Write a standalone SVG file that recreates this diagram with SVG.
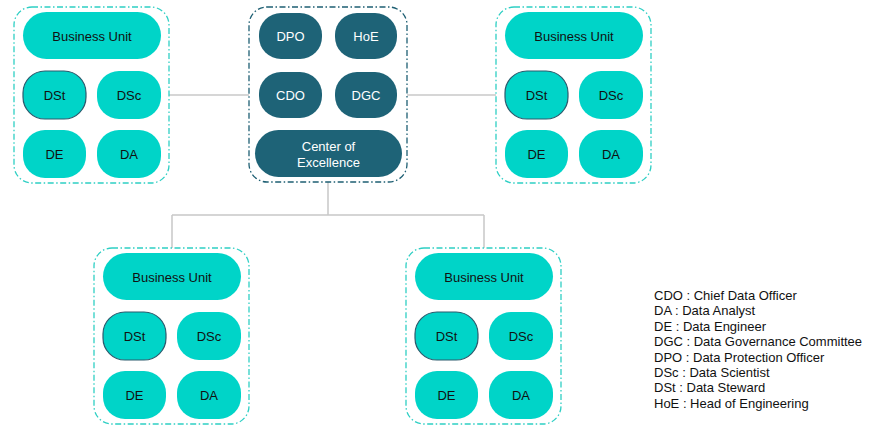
<svg xmlns="http://www.w3.org/2000/svg" width="869" height="437" viewBox="0 0 869 437">
<style>
.bg{fill:#fff}
.cont{fill:none;stroke:#2ecfc4;stroke-width:1.3;stroke-dasharray:6 2.5 1.5 2.5}
.contc{fill:none;stroke:#1e5f73;stroke-width:1.3;stroke-dasharray:6 2.5 1.5 2.5}
.pill{fill:#00d4c8}
.dst{fill:#00d4c8;stroke:#2b5a6c;stroke-width:1.2}
.dark{fill:#1e6377}
.t{font-family:"Liberation Sans",Arial,sans-serif;font-size:13px;fill:#111;text-anchor:middle;dominant-baseline:central}
.tw{font-family:"Liberation Sans",Arial,sans-serif;font-size:13px;fill:#fff;text-anchor:middle;dominant-baseline:central}
.leg{font-family:"Liberation Sans",Arial,sans-serif;font-size:13px;fill:#111}
.conn{fill:none;stroke:#c8c8c8;stroke-width:1.5}
</style>
<defs>
<g id="bu">
<rect class="cont" x="0" y="0" width="155" height="176" rx="18"/>
<rect class="pill" x="9" y="5" width="138" height="47" rx="23.5"/>
<text class="t" x="78" y="29">Business Unit</text>
<rect class="dst" x="9" y="64" width="63" height="48" rx="22"/>
<text class="t" x="40.5" y="88">DSt</text>
<rect class="pill" x="83" y="64" width="64" height="48" rx="22"/>
<text class="t" x="115" y="88">DSc</text>
<rect class="pill" x="9" y="123" width="63" height="48" rx="22"/>
<text class="t" x="40.5" y="147">DE</text>
<rect class="pill" x="83" y="123" width="64" height="48" rx="22"/>
<text class="t" x="115" y="147">DA</text>
</g>
</defs>
<rect class="bg" x="0" y="0" width="869" height="437"/>
<g id="connectors">
<path class="conn" d="M169 95 H249"/>
<path class="conn" d="M407 95 H496"/>
<path class="conn" d="M328 182 V215 M172 215 H484 M172 215 V248 M484 215 V248"/>
</g>
<g id="bu-top-left"><use href="#bu" x="14" y="7"/></g>
<g id="bu-top-right"><use href="#bu" x="496" y="7"/></g>
<g id="bu-bottom-left"><use href="#bu" x="94" y="248"/></g>
<g id="bu-bottom-right"><use href="#bu" x="406" y="248"/></g>
<g id="coe">
<rect class="contc" x="249" y="7" width="158" height="175" rx="18"/>
<rect class="dark" x="259" y="13" width="63" height="46" rx="22"/>
<text class="tw" x="290.5" y="36">DPO</text>
<rect class="dark" x="335" y="13" width="62" height="46" rx="22"/>
<text class="tw" x="366" y="36">HoE</text>
<rect class="dark" x="259" y="72" width="63" height="46" rx="22"/>
<text class="tw" x="290.5" y="95">CDO</text>
<rect class="dark" x="335" y="72" width="62" height="46" rx="22"/>
<text class="tw" x="366" y="95">DGC</text>
<rect class="dark" x="255" y="130" width="147" height="47" rx="23.5"/>
<text class="tw" x="328.5" y="146">Center of</text>
<text class="tw" x="328.5" y="162">Excellence</text>
</g>
<g id="legend">
<text class="leg" x="654" y="300">CDO : Chief Data Officer</text>
<text class="leg" x="654" y="315.4">DA : Data Analyst</text>
<text class="leg" x="654" y="330.8">DE : Data Engineer</text>
<text class="leg" x="654" y="346.2">DGC : Data Governance Committee</text>
<text class="leg" x="654" y="361.6">DPO : Data Protection Officer</text>
<text class="leg" x="654" y="377">DSc : Data Scientist</text>
<text class="leg" x="654" y="392.4">DSt : Data Steward</text>
<text class="leg" x="654" y="407.8">HoE : Head of Engineering</text>
</g>
</svg>
